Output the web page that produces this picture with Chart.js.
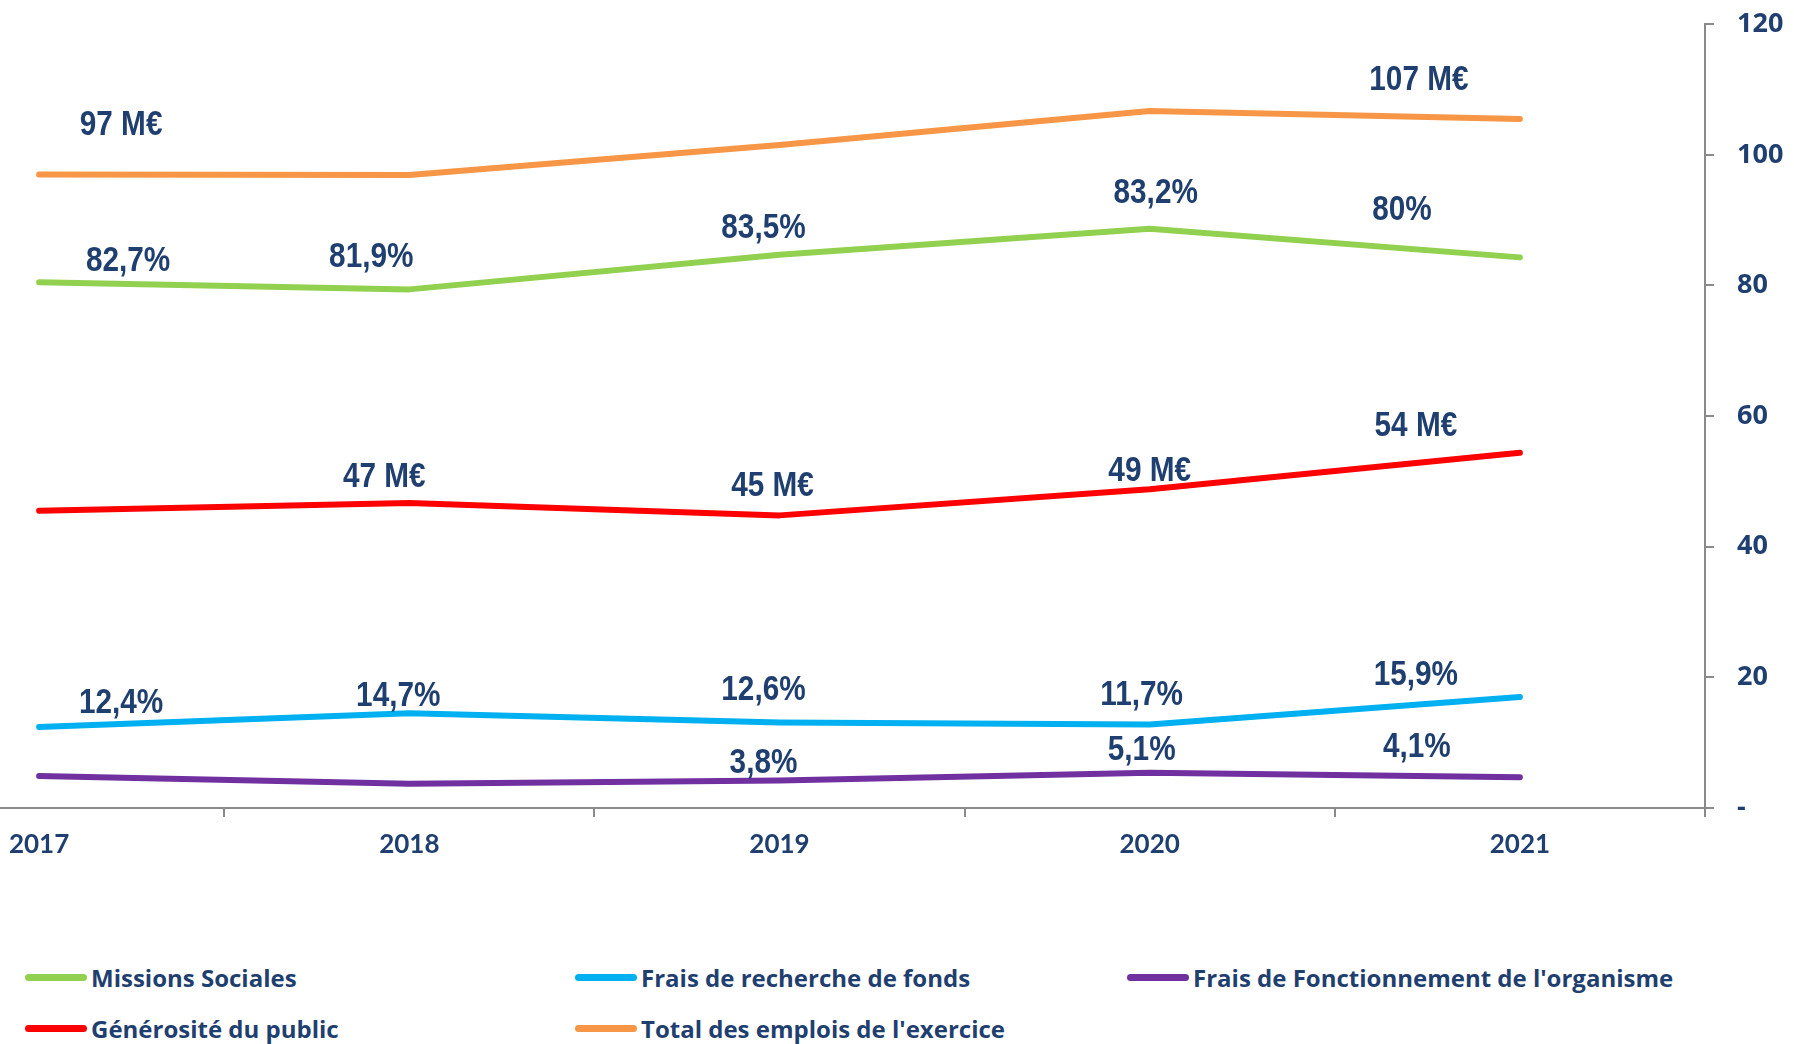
<!DOCTYPE html>
<html>
<head>
<meta charset="utf-8">
<script src="https://cdn.jsdelivr.net/npm/chart.js@4/dist/chart.umd.min.js"></script>
<style>
  html, body { margin: 0; padding: 0; background: #fff; overflow: hidden; }
  body { width: 1794px; height: 1044px; position: relative; }
  #chart { position: absolute; left: -146px; top: -15px; }
  .legend-item { position: absolute; height: 30px; display: flex; align-items: center;
    font-family: "Open Sans", Lato, sans-serif; font-weight: 700; font-size: 24px; color: #1f3f70; white-space: nowrap; }
  .legend-item span.swatch { display: inline-block; width: 62px; height: 7px; border-radius: 4px; margin-right: 4px; }
</style>
</head>
<body>
<canvas id="chart" width="1940" height="895"></canvas>
<div id="legend"></div>
<script>
// data
var years = ['2017', '2018', '2019', '2020', '2021'];
var missionsSociales = [80.5, 79.4, 84.7, 88.7, 84.3];
var fraisRecherche = [12.4, 14.5, 13.1, 12.8, 17.0];
var fraisFonctionnement = [4.9, 3.7, 4.2, 5.4, 4.7];
var generosite = [45.5, 46.7, 44.8, 48.8, 54.4];
var totalEmplois = [97.0, 96.9, 101.5, 106.7, 105.5];

// data labels shown above the lines
var missionsLabels = ['82,7%', '81,9%', '83,5%', '83,2%', '80%'];
var rechercheLabels = ['12,4%', '14,7%', '12,6%', '11,7%', '15,9%'];
var fonctionnementLabels = [null, null, '3,8%', '5,1%', '4,1%'];
var generositeLabels = [null, '47 M€', '45 M€', '49 M€', '54 M€'];
var totalLabels = ['97 M€', null, null, null, '107 M€'];

var yTicks = [0, 20, 40, 60, 80, 100, 120];

// label offsets from the point, in pixels (style only)
var missionsOffsets = [[89, -21], [-38, -32], [-16, -26], [6, -35], [-118, -47]];
var rechercheOffsets = [[82, -24], [-11, -17], [-16, -32], [-8, -29], [-104, -22]];
var fonctionnementOffsets = [null, null, [-16, -17], [-8, -22], [-103, -30]];
var generositeOffsets = [null, [-25, -26], [-7, -29], [0, -18], [-104, -26]];
var totalOffsets = [[82, -49], null, null, null, [-101, -39]];

var textColor = '#1f3f70';
var axisColor = '#8a8a8a';

function makeSeries(label, values, color, labels, offsets) {
  return {
    label: label,
    data: values,
    borderColor: color,
    backgroundColor: color,
    borderWidth: 6,
    pointRadius: 0,
    tension: 0,
    borderCapStyle: 'round',
    borderJoinStyle: 'round',
    valueLabels: labels,
    labelOffsets: offsets
  };
}

// draws the text labels of each series, condensed like the narrow font of the original
var valueLabelPlugin = {
  id: 'valueLabels',
  afterDatasetsDraw: function(chart) {
    var ctx = chart.ctx;
    chart.data.datasets.forEach(function(ds, di) {
      var meta = chart.getDatasetMeta(di);
      meta.data.forEach(function(pt, i) {
        var text = ds.valueLabels[i];
        if (!text) return;
        var off = ds.labelOffsets[i] || [0, 0];
        ctx.save();
        ctx.translate(pt.x + off[0], pt.y + off[1]);
        ctx.scale(0.85, 1);
        ctx.font = 'bold 35px "Liberation Sans", Arial, sans-serif';
        ctx.fillStyle = textColor;
        ctx.textAlign = 'center';
        ctx.textBaseline = 'middle';
        ctx.fillText(text, 0, 0);
        ctx.restore();
      });
    });
  }
};

var datasets = [
  makeSeries('Missions Sociales', missionsSociales, '#92d050', missionsLabels, missionsOffsets),
  makeSeries('Frais de recherche de fonds', fraisRecherche, '#00b0f0', rechercheLabels, rechercheOffsets),
  makeSeries("Frais de Fonctionnement de l'organisme", fraisFonctionnement, '#7030a0', fonctionnementLabels, fonctionnementOffsets),
  makeSeries('Générosité du public', generosite, '#ff0000', generositeLabels, generositeOffsets),
  makeSeries("Total des emplois de l'exercice", totalEmplois, '#f79646', totalLabels, totalOffsets)
];

var chart = new Chart(document.getElementById('chart'), {
  type: 'line',
  data: { labels: years, datasets: datasets },
  plugins: [valueLabelPlugin],
  options: {
    responsive: false,
    animation: false,
    layout: { padding: { top: 5, left: 0, right: 0, bottom: 0 } },
    plugins: { legend: { display: false }, tooltip: { enabled: false } },
    scales: {
      x: {
        type: 'category',
        offset: true,
        grid: { offset: true, drawOnChartArea: false, drawTicks: true, tickLength: 9, color: axisColor, lineWidth: 2 },
        border: { color: axisColor, width: 2 },
        ticks: {
          color: textColor,
          padding: 12,
          font: { family: 'Lato, sans-serif', weight: 'bold', size: 26 }
        },
        afterFit: function(scale) { scale.height = 72; }
      },
      y: {
        position: 'right',
        min: 0,
        max: 120,
        afterBuildTicks: function(scale) {
          scale.ticks = yTicks.map(function(v) { return { value: v }; });
        },
        grid: { drawOnChartArea: false, drawTicks: true, tickLength: 9, color: axisColor, lineWidth: 2 },
        border: { color: axisColor, width: 2 },
        ticks: {
          color: textColor,
          padding: 23,
          crossAlign: 'near',
          font: { family: '"Open Sans", sans-serif', weight: 'bold', size: 27 },
          callback: function(v) { return v === 0 ? '-' : v; }
        },
        afterFit: function(scale) { scale.width = 89; }
      }
    }
  }
});

// legend in three columns, two rows
var legendSlots = [[25, 977], [575, 977], [1127, 977], [25, 1028], [575, 1028]];
var legendBox = document.getElementById('legend');
datasets.forEach(function(ds, i) {
  var item = document.createElement('div');
  item.className = 'legend-item';
  item.style.left = legendSlots[i][0] + 'px';
  item.style.top = (legendSlots[i][1] - 15) + 'px';
  item.innerHTML = '<span class="swatch" style="background:' + ds.borderColor + '"></span>' + ds.label;
  legendBox.appendChild(item);
});
</script>
</body>
</html>
